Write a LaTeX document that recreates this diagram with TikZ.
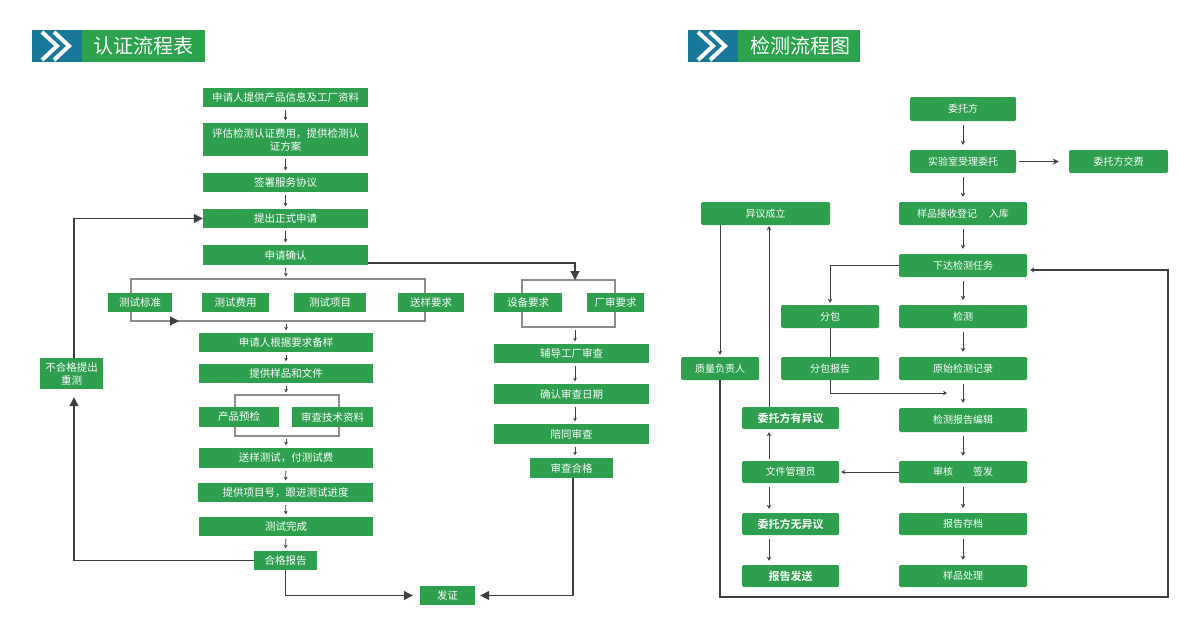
\documentclass[tikz,border=0pt]{standalone}
\usepackage{fontspec}
\setmainfont{Noto Sans CJK SC}[BoldFont={Noto Sans CJK SC Bold}]
\usetikzlibrary{arrows.meta}
\definecolor{gbox}{HTML}{2E9F4D}
\definecolor{hgreen}{HTML}{2BA24C}
\definecolor{hblue}{HTML}{17789A}
\definecolor{ln}{HTML}{3F3F3F}
\definecolor{brc}{HTML}{8C8C8C}
\begin{document}
\begin{tikzpicture}[x=1pt,y=-1pt,
  box/.style={fill=gbox,text=white,inner sep=0pt,align=center,font=\fontsize{10.5}{13}\selectfont},
  rbox/.style={box,rounded corners=1.5pt,font=\fontsize{10}{12}\selectfont},
  bbox/.style={rbox,font=\fontsize{11}{12}\selectfont\bfseries},
  hdr/.style={text=white,inner sep=0pt,font=\fontsize{20}{22}\selectfont},
  sa/.style={draw=ln,line width=0.9pt,-{Stealth[length=3.5pt,width=3.8pt]},shorten <=3pt,shorten >=2.5pt},
  big/.style={draw=ln,line width=1.3pt,-{Triangle[length=9pt,width=9pt]}},
  brk/.style={draw=brc,line width=1.2pt},
  rl/.style={draw=ln,line width=1pt},
  ra/.style={rl,-{Stealth[length=4pt,width=4.5pt]}},
  chev/.style={draw=white,line width=4pt,line join=miter}
]
\useasboundingbox (0,0) rectangle (1200,624);
\fill[white] (0,0) rectangle (1200,624);

% ---------- headers ----------
\fill[hblue] (32,30) rectangle (82,62);
\fill[hgreen] (82,30) rectangle (205,62);
\draw[chev] (42,32) -- (57,46) -- (42,60);
\draw[chev] (54,32) -- (69,46) -- (54,60);
\node[hdr] (h1) at (143.5,46) {认证流程表};

\fill[hblue] (688,30) rectangle (738,62);
\fill[hgreen] (738,30) rectangle (860,62);
\draw[chev] (698,32) -- (713,46) -- (698,60);
\draw[chev] (710,32) -- (725,46) -- (710,60);
\node[hdr] (h2) at (800,46) {检测流程图};

% ---------- left chart brackets ----------
\coordinate (b1t) at (286,279);
\coordinate (b1b) at (286,321);
\coordinate (b2t) at (286,395);
\coordinate (b2b) at (286,436);
\coordinate (b3t) at (575,280);
\coordinate (b3b) at (575,327);
\coordinate (b1l) at (131,321);
\coordinate (b1a) at (179,321);
\draw[brk] (131,279) rectangle (425,321);
\draw[brk] (235,395) rectangle (339,436);
\draw[brk] (522,280) rectangle (615,327);
\draw[draw=brc,line width=1.2pt,-{Triangle[length=9pt,width=9pt,color=ln]}] (b1l) -- (b1a);

% ---------- left chart boxes ----------
\node[box,minimum width=165pt,minimum height=19pt] (L1) at (285.5,97.5) {申请人提供产品信息及工厂资料};
\node[box,minimum width=165pt,minimum height=33pt] (L2) at (285.5,139.5) {评估检测认证费用，提供检测认\\证方案};
\node[box,minimum width=165pt,minimum height=19pt] (L3) at (285.5,182.5) {签署服务协议};
\node[box,minimum width=165pt,minimum height=19pt] (L4) at (285.5,218.5) {提出正式申请};
\node[box,minimum width=165pt,minimum height=20pt] (L5) at (285.5,255) {申请确认};
\node[box,minimum width=64pt,minimum height=19pt] (T1) at (140,302.5) {测试标准};
\node[box,minimum width=67pt,minimum height=19pt] (T2) at (235.5,302.5) {测试费用};
\node[box,minimum width=72pt,minimum height=19pt] (T3) at (330,302.5) {测试项目};
\node[box,minimum width=66pt,minimum height=19pt] (T4) at (431,302.5) {送样要求};
\node[box,minimum width=174pt,minimum height=19pt] (L6) at (286,342.5) {申请人根据要求备样};
\node[box,minimum width=174pt,minimum height=19pt] (L7) at (286,373.5) {提供样品和文件};
\node[box,minimum width=80pt,minimum height=20pt] (P1) at (239,417) {产品预检};
\node[box,minimum width=81pt,minimum height=20pt] (P2) at (332.5,417) {审查技术资料};
\node[box,minimum width=174pt,minimum height=20pt] (L8) at (286,458) {送样测试，付测试费};
\node[box,minimum width=175pt,minimum height=19pt] (L9) at (285.5,492.5) {提供项目号，跟进测试进度};
\node[box,minimum width=174pt,minimum height=19pt] (L10) at (286,526.5) {测试完成};
\node[box,minimum width=63pt,minimum height=19pt] (L11) at (285.5,560.5) {合格报告};
\node[box,minimum width=63pt,minimum height=31pt] (R) at (71.5,373.5) {不合格提出\\重测};
\node[box,minimum width=55pt,minimum height=19pt] (F) at (447.5,595.5) {发证};
\node[box,minimum width=68pt,minimum height=19pt] (M1) at (528,302.5) {设备要求};
\node[box,minimum width=57pt,minimum height=19pt] (M2) at (615.5,302.5) {厂审要求};
\node[box,minimum width=155pt,minimum height=19pt] (M3) at (571.5,353.5) {辅导工厂审查};
\node[box,minimum width=155pt,minimum height=20pt] (M4) at (571.5,394) {确认审查日期};
\node[box,minimum width=155pt,minimum height=20pt] (M5) at (571.5,434) {陪同审查};
\node[box,minimum width=83pt,minimum height=20pt] (M6) at (571.5,468) {审查合格};

% ---------- left chart connectors ----------
\draw[sa] (L1) -- (L2);
\draw[sa] (L2) -- (L3);
\draw[sa] (L3) -- (L4);
\draw[sa] (L4) -- (L5);
\draw[sa] (L5.south) -- (b1t);
\draw[sa] (b1b) -- (L6.north);
\draw[sa] (L6) -- (L7);
\draw[sa] (L7.south) -- (b2t);
\draw[sa] (b2b) -- (L8.north);
\draw[sa] (L8) -- (L9);
\draw[sa] (L9) -- (L10);
\draw[sa] (L10) -- (L11);
\draw[sa] (b3b) -- (M3.north -| b3b);
\draw[sa] (M3.south -| b3b) -- (M4.north -| b3b);
\draw[sa] (M4.south -| b3b) -- (M5.north -| b3b);
\draw[sa] (M5.south -| b3b) -- (M6.north -| b3b);
\draw[big] ([yshift=-8pt]L5.east) -| (b3t);
\draw[big,shorten >=8pt] (L11.west) -| ([xshift=2.5pt]R.south);
\draw[big] ([xshift=2.5pt]R.north) |- (L4.west);
\draw[big,shorten >=7pt] (L11.south) |- (F.west);
\draw[big,shorten >=5pt] ([xshift=1.5pt]M6.south) |- (F.east);

% ---------- right chart boxes ----------
\node[rbox,minimum width=106pt,minimum height=24pt] (W1) at (963,109) {委托方};
\node[rbox,minimum width=106pt,minimum height=23pt] (W2) at (963,161.5) {实验室受理委托};
\node[rbox,minimum width=99pt,minimum height=23pt] (W3) at (1118.5,161.5) {委托方交费};
\node[rbox,minimum width=128pt,minimum height=23pt] (W4) at (963,213.5) {样品接收登记\hspace{1.2em}入库};
\node[rbox,minimum width=128pt,minimum height=23pt] (W5) at (963,265.5) {下达检测任务};
\node[rbox,minimum width=128pt,minimum height=23pt] (W6) at (963,316.5) {检测};
\node[rbox,minimum width=128pt,minimum height=23pt] (W7) at (963,368.5) {原始检测记录};
\node[rbox,minimum width=128pt,minimum height=24pt] (W8) at (963,420) {检测报告编辑};
\node[rbox,minimum width=128pt,minimum height=22pt] (W9) at (963,472) {审核\hspace{2em}签发};
\node[rbox,minimum width=128pt,minimum height=22pt] (W10) at (963,524) {报告存档};
\node[rbox,minimum width=128pt,minimum height=22pt] (W11) at (963,576) {样品处理};
\node[rbox,minimum width=98pt,minimum height=23pt] (S1) at (830,316.5) {分包};
\node[rbox,minimum width=98pt,minimum height=23pt] (S2) at (830,368.5) {分包报告};
\node[rbox,minimum width=129pt,minimum height=23pt] (Y) at (765.5,213.5) {异议成立};
\node[rbox,minimum width=78pt,minimum height=23pt] (Q) at (720,368.5) {质量负责人};
\node[bbox,minimum width=97pt,minimum height=22pt] (D1) at (790.5,418) {委托方有异议};
\node[rbox,minimum width=97pt,minimum height=22pt] (D2) at (790.5,472) {文件管理员};
\node[bbox,minimum width=97pt,minimum height=22pt] (D3) at (790.5,524) {委托方无异议};
\node[bbox,minimum width=97pt,minimum height=22pt] (D4) at (790.5,576) {报告发送};

% ---------- right chart connectors ----------
\coordinate (dx) at (769,0);
\coordinate (c1) at (947,393);
\coordinate (lp) at (1168,597);
\foreach \a/\b in {W1/W2,W2/W4,W4/W5,W5/W6,W6/W7,W7/W8,W8/W9,W9/W10,W10/W11}
  \draw[ra,shorten <=4pt,shorten >=5pt] (\a) -- (\b);
\draw[rl,line width=1.3pt,-{Stealth[length=6pt,width=6pt]},shorten <=3pt,shorten >=10pt] (W2) -- (W3);
\draw[ra,shorten >=2pt] (W5.west) -| (S1.north);
\draw[rl] (S1) -- (S2);
\draw[ra] (S2.south) |- (c1);
\draw[ra,shorten >=2pt] (Q.north |- Y.south) -- (Q.north);
\draw[ra,shorten >=1pt] (dx |- D1.north) -- (dx |- Y.south);
\draw[ra,shorten <=2pt,shorten >=3pt] (dx |- D2.north) -- (dx |- D1.south);
\draw[ra,shorten <=4pt,shorten >=4pt] (dx |- D2.south) -- (dx |- D3.north);
\draw[ra,shorten <=4pt,shorten >=4pt] (dx |- D3.south) -- (dx |- D4.north);
\draw[ra,shorten >=2pt] (W9.west) -- (D2.east);
\draw[rl,line width=1.2pt,-{Stealth[length=4pt,width=5pt]},shorten >=3pt] (Q.south) |- (lp) |- ([yshift=-4.5pt]W5.east);
\end{tikzpicture}
\end{document}
